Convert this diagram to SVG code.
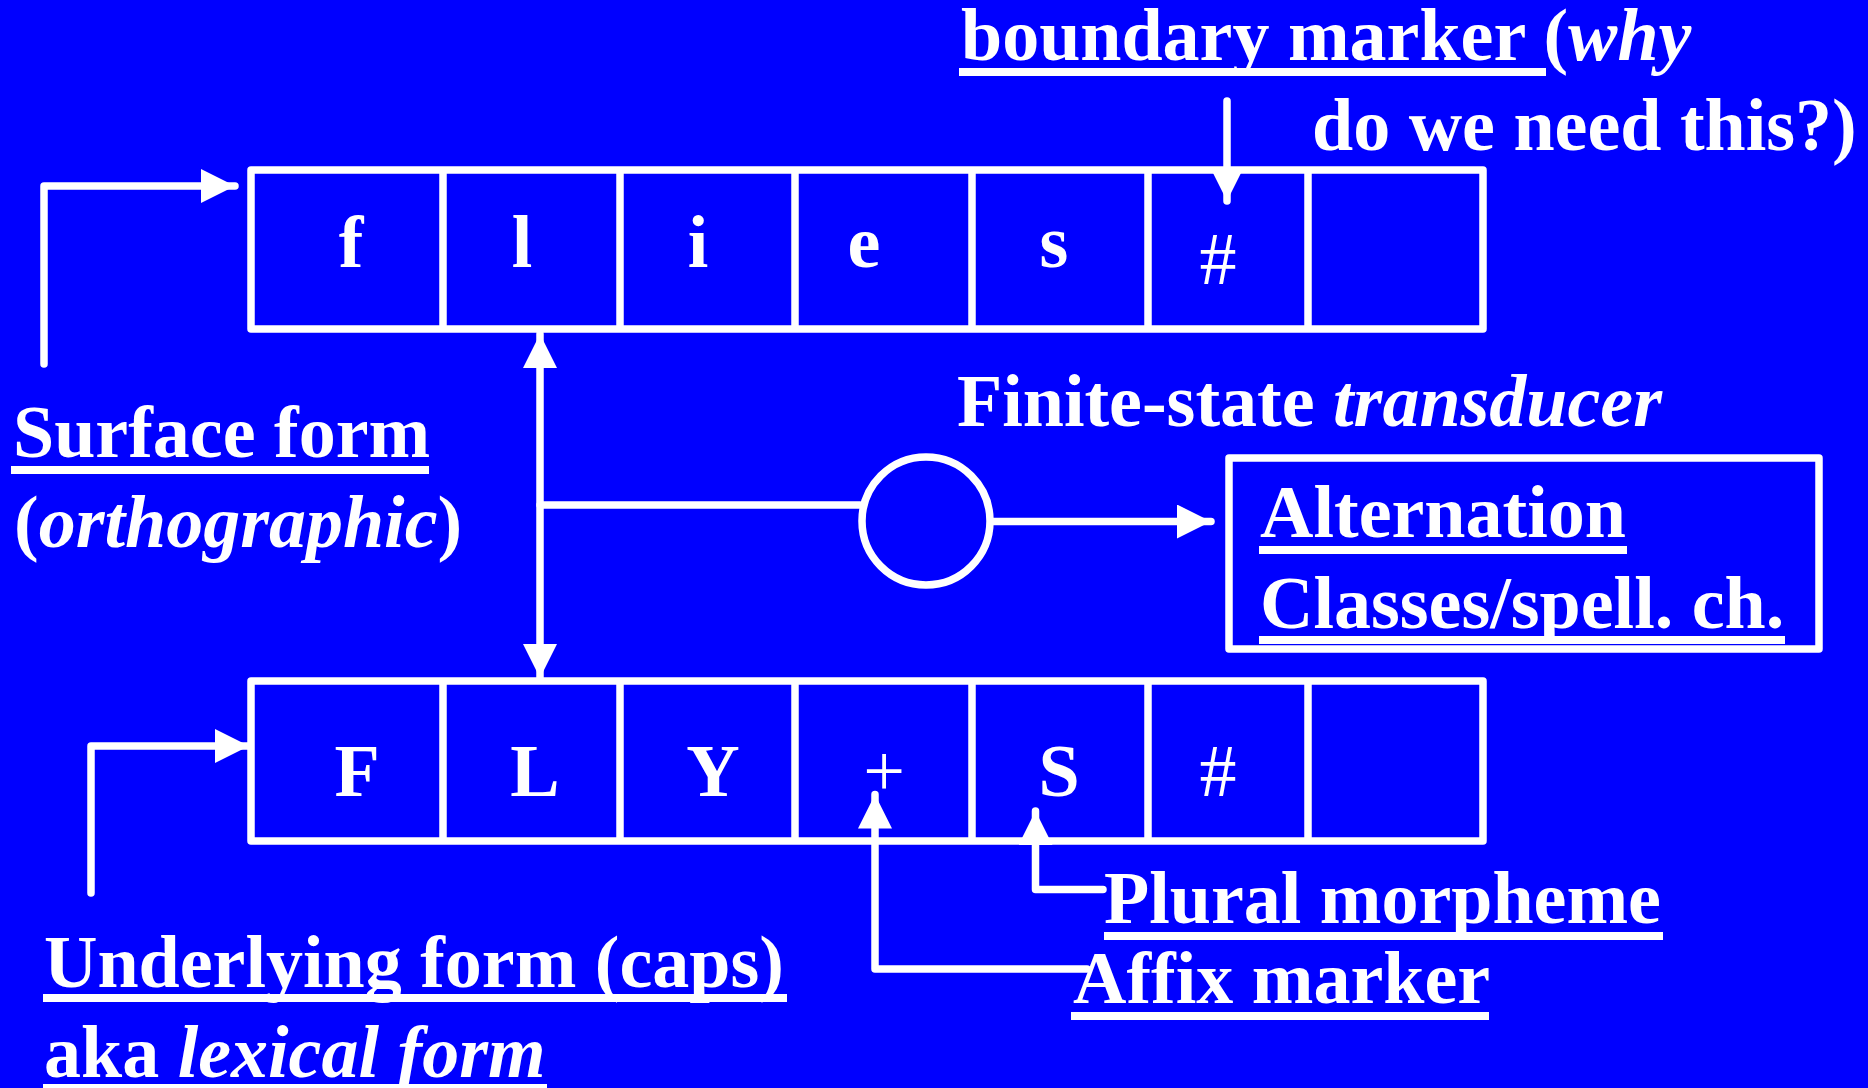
<svg xmlns="http://www.w3.org/2000/svg" width="1868" height="1088" viewBox="0 0 1868 1088">
<style>
  text { font-family: "Liberation Serif", "Times New Roman", serif; font-size: 74px; font-weight: bold; fill: #fff; }
  .it { font-style: italic; }
  .reg { font-weight: normal; }
  .cell { text-anchor: middle; }
  .box { fill: none; stroke: #fff; stroke-width: 7.5; stroke-linejoin: round; }
  .ln { fill: none; stroke: #fff; stroke-width: 7.5; stroke-linejoin: round; stroke-linecap: round; }
  .ul { fill: #fff; }
</style>
<defs>
  <marker id="ah" markerUnits="userSpaceOnUse" markerWidth="34" markerHeight="34" refX="34" refY="17" orient="auto">
    <path d="M0,0 L34,17 L0,34 Z" fill="#fff"/>
  </marker>
  <marker id="ahs" markerUnits="userSpaceOnUse" markerWidth="34" markerHeight="34" refX="34" refY="17" orient="auto-start-reverse">
    <path d="M0,0 L34,17 L0,34 Z" fill="#fff"/>
  </marker>
</defs>
<rect x="0" y="0" width="1868" height="1088" fill="#0000FF"/>

<g id="surface-tape">
  <rect class="box" x="251" y="170" width="1232" height="159"/>
  <line class="box" x1="443" y1="170" x2="443" y2="329"/>
  <line class="box" x1="620" y1="170" x2="620" y2="329"/>
  <line class="box" x1="795" y1="170" x2="795" y2="329"/>
  <line class="box" x1="972" y1="170" x2="972" y2="329"/>
  <line class="box" x1="1148" y1="170" x2="1148" y2="329"/>
  <line class="box" x1="1308" y1="170" x2="1308" y2="329"/>
  <text class="cell" x="351" y="267">f</text>
  <text class="cell" x="522" y="267">l</text>
  <text class="cell" x="698" y="267">i</text>
  <text class="cell" x="864" y="267">e</text>
  <text class="cell" x="1054" y="267">s</text>
  <text class="cell reg" x="1218" y="284">#</text>
</g>

<g id="lexical-tape">
  <rect class="box" x="251" y="681" width="1232" height="160"/>
  <line class="box" x1="443" y1="681" x2="443" y2="841"/>
  <line class="box" x1="620" y1="681" x2="620" y2="841"/>
  <line class="box" x1="795" y1="681" x2="795" y2="841"/>
  <line class="box" x1="972" y1="681" x2="972" y2="841"/>
  <line class="box" x1="1148" y1="681" x2="1148" y2="841"/>
  <line class="box" x1="1308" y1="681" x2="1308" y2="841"/>
  <text class="cell" x="357" y="796">F</text>
  <text class="cell" x="535" y="796">L</text>
  <text class="cell" x="713" y="796">Y</text>
  <text class="cell reg" x="884" y="796">+</text>
  <text class="cell" x="1059" y="796">S</text>
  <text class="cell reg" x="1218" y="796">#</text>
</g>

<g id="transducer">
  <circle cx="926" cy="521" r="64" fill="none" stroke="#fff" stroke-width="7.5"/>
</g>

<g id="alternation-box">
  <rect class="box" x="1229" y="458" width="590" height="191"/>
  <text x="1260" y="537">Alternation</text>
  <rect class="ul" x="1259" y="546" width="368" height="8"/>
  <text x="1260" y="628">Classes/spell. ch.</text>
  <rect class="ul" x="1259" y="636" width="526" height="8"/>
</g>

<g id="label-boundary">
  <text x="961" y="60">boundary marker (<tspan class="it">why</tspan></text>
  <rect class="ul" x="959" y="68" width="587" height="8"/>
  <text x="1312" y="150">do we need this?)</text>
</g>

<g id="label-fst">
  <text x="957" y="426">Finite-state <tspan class="it">transducer</tspan></text>
</g>

<g id="label-surface">
  <text x="13" y="457">Surface form</text>
  <rect class="ul" x="11" y="466" width="418" height="8"/>
  <text x="14" y="547">(<tspan class="it">orthographic</tspan>)</text>
</g>

<g id="label-underlying">
  <text x="44" y="987">Underlying form (caps)</text>
  <rect class="ul" x="43" y="994" width="744" height="8"/>
  <text x="44" y="1077">aka <tspan class="it">lexical form</tspan></text>
  <rect class="ul" x="43" y="1084" width="504" height="8"/>
</g>

<g id="label-plural">
  <text x="1104" y="923">Plural morpheme</text>
  <rect class="ul" x="1104" y="932" width="559" height="8"/>
</g>

<g id="label-affix">
  <text x="1073" y="1003">Affix marker</text>
  <rect class="ul" x="1071" y="1012" width="418" height="8"/>
</g>

<g id="connectors">
  <line class="ln" x1="1227" y1="101" x2="1227" y2="201" marker-end="url(#ah)"/>
  <polyline class="ln" points="44,364 44,186 235,186" marker-end="url(#ah)"/>
  <polyline class="ln" points="91,893 91,746 249,746" marker-end="url(#ah)"/>
  <line class="ln" x1="540" y1="334" x2="540" y2="678" marker-start="url(#ahs)" marker-end="url(#ahs)"/>
  <line class="ln" x1="540" y1="505" x2="860" y2="505"/>
  <line class="ln" x1="992" y1="521.5" x2="1211" y2="521.5" marker-end="url(#ah)"/>
  <polyline class="ln" points="1103,889.5 1035.5,889.5 1035.5,811" marker-end="url(#ah)"/>
  <polyline class="ln" points="1087,969 875,969 875,794.5" marker-end="url(#ah)"/>
</g>
</svg>
